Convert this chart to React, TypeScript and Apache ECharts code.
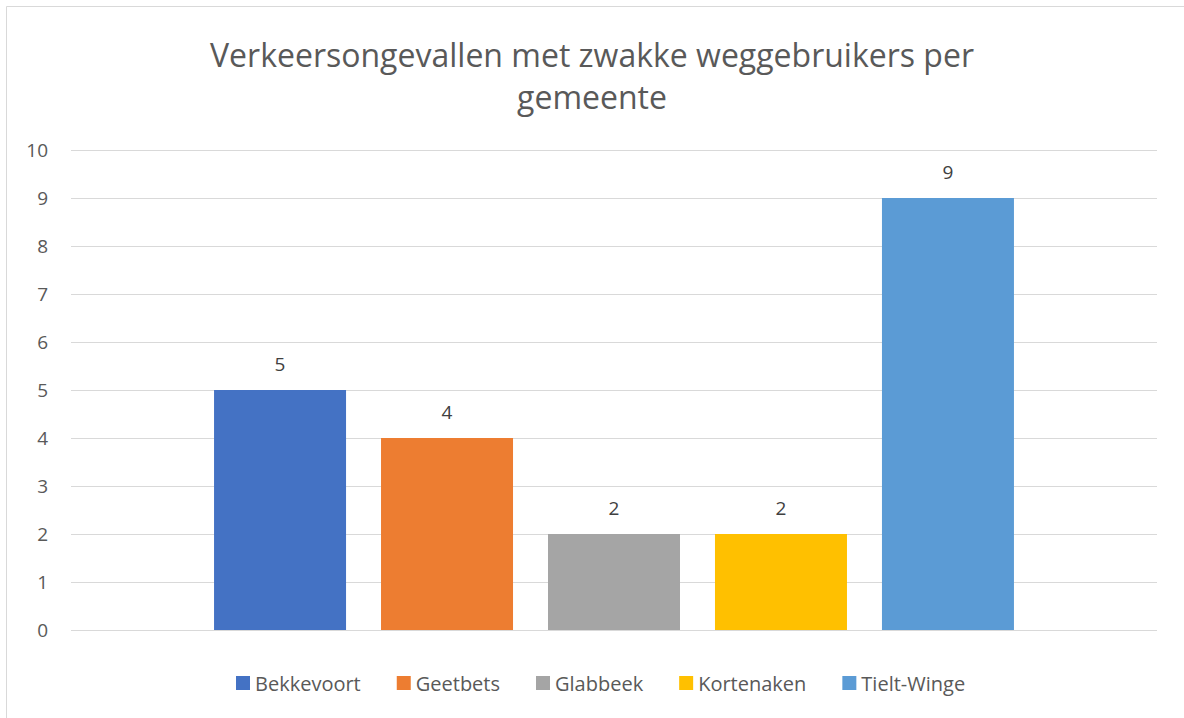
import React, { useEffect, useRef } from "react";
import * as echarts from "echarts";

const titleLines = ["Verkeersongevallen met zwakke weggebruikers per", "gemeente"];
const municipalities = ["Bekkevoort", "Geetbets", "Glabbeek", "Kortenaken", "Tielt-Winge"];
const accidents = [5, 4, 2, 2, 9];
const colors = ["#4472C4", "#ED7D31", "#A5A5A5", "#FFC000", "#5B9BD5"];
const yTicks = { min: 0, max: 10, interval: 1 };

const FONT = "'Open Sans', 'Noto Sans', sans-serif";

export default function App() {
  const ref = useRef<HTMLDivElement>(null);
  useEffect(() => {
    if (!ref.current) return;
    const chart = echarts.init(ref.current, undefined, { renderer: "svg" });
    chart.setOption({
      animation: false,
      textStyle: { fontFamily: FONT },
      title: {
        text: titleLines.join("\n"),
        left: "center",
        top: 28,
        textStyle: {
          fontFamily: FONT,
          fontSize: 32,
          fontWeight: "normal",
          color: "#595959",
          lineHeight: 42,
        },
      },
      graphic: [
        {
          type: "rect",
          shape: { x: 6.5, y: 6.5, width: 1300, height: 900 },
          style: { fill: "none", stroke: "#d9d9d9", lineWidth: 1 },
          silent: true,
        },
      ],
      legend: {
        left: 231,
        top: 668,
        itemWidth: 14,
        itemHeight: 14,
        itemGap: 36,
        icon: "rect",
        textStyle: { fontFamily: FONT, fontSize: 20, color: "#595959" },
        data: municipalities,
      },
      grid: { left: 71, right: 27, top: 150, bottom: 88 },
      xAxis: {
        type: "category",
        data: [""],
        axisLine: { show: false },
        axisTick: { show: false },
        axisLabel: { show: false },
      },
      yAxis: {
        type: "value",
        min: yTicks.min,
        max: yTicks.max,
        interval: yTicks.interval,
        axisLine: { show: false },
        axisTick: { show: false },
        axisLabel: { color: "#595959", fontSize: 19, margin: 23, fontFamily: FONT },
        splitLine: { lineStyle: { color: "#d9d9d9", width: 1 } },
      },
      series: municipalities.map((name, i) => ({
        name,
        type: "bar",
        data: [accidents[i]],
        barWidth: 132,
        barGap: "26.5%",
        itemStyle: { color: colors[i] },
        label: {
          show: true,
          position: "top",
          distance: 17,
          color: "#404040",
          fontSize: 19,
          fontFamily: FONT,
        },
      })),
    });
    return () => chart.dispose();
  }, []);
  return (
    <div
      ref={ref}
      style={{ position: "absolute", left: 0, top: 0, width: 1184, height: 718 }}
    />
  );
}
